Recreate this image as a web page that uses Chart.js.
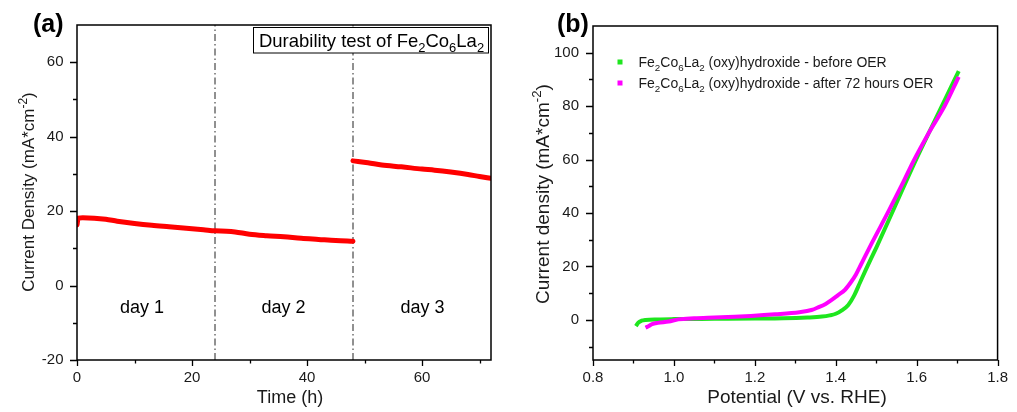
<!DOCTYPE html>
<html>
<head>
<meta charset="utf-8">
<script src="https://cdn.jsdelivr.net/npm/chart.js@4.4.0/dist/chart.umd.min.js"></script>
<style>
  body { margin: 0; background: #fff; }
  #wrap { position: relative; width: 1017px; height: 412px; }
  #chartA { position: absolute; left: 0; top: 0; }
  #chartB { position: absolute; left: 500px; top: 0; }
</style>
</head>
<body>
<div id="wrap">
  <canvas id="chartA" width="500" height="412"></canvas>
  <canvas id="chartB" width="517" height="412"></canvas>
</div>
<script>
// (a) durability run, current density over three days
const day12Time = [0, 0.2, 1, 3, 5, 7, 10, 13, 16, 19, 22, 24, 26, 27.5, 30, 33, 36, 39, 42, 45, 48];
const day12Current = [16.3, 18.1, 18.2, 18.1, 17.8, 17.3, 16.7, 16.2, 15.8, 15.4, 15.0, 14.7, 14.6, 14.4, 13.8, 13.4, 13.1, 12.7, 12.4, 12.1, 11.9];
const day3Time = [48, 50.6, 53, 56.4, 60, 62.2, 65, 68, 70, 72];
const day3Current = [33.5, 33.0, 32.4, 31.9, 31.3, 31.0, 30.5, 29.85, 29.3, 28.8];
const dayBoundaries = [24, 48];
const dayLabels = ['day 1', 'day 2', 'day 3'];
const timeTicks = [0, 20, 40, 60];
const currentTicks = [-20, 0, 20, 40, 60];

// (b) polarisation curves before / after 72 h
const potentialBefore = [0.906, 0.912, 0.92, 0.93, 0.96, 1.0, 1.1, 1.2, 1.27, 1.33, 1.366, 1.385, 1.4, 1.415, 1.431, 1.445, 1.46, 1.475, 1.5, 1.539, 1.597, 1.667, 1.704];
const densityBefore = [-2.3, -1.0, -0.3, 0.0, 0.2, 0.3, 0.4, 0.5, 0.6, 0.9, 1.25, 1.7, 2.3, 3.6, 5.6, 9.0, 14.0, 19.0, 27.0, 40.0, 59.5, 81.5, 93.1];
const potentialAfter = [0.93, 0.938, 0.946, 0.96, 0.987, 1.011, 1.05, 1.1, 1.15, 1.19, 1.25, 1.31, 1.34, 1.358, 1.375, 1.39, 1.405, 1.423, 1.437, 1.45, 1.46, 1.49, 1.53, 1.565, 1.594, 1.63, 1.669, 1.704];
const densityAfter = [-2.9, -2.3, -1.6, -1.1, -0.6, 0.2, 0.6, 0.9, 1.2, 1.5, 2.1, 2.9, 3.7, 4.8, 6.0, 7.5, 9.2, 11.3, 14.0, 17.0, 20.0, 29.0, 40.5, 51.0, 60.0, 70.0, 80.0, 91.0];
const potentialTicks = [0.8, 1.0, 1.2, 1.4, 1.6, 1.8];
const densityTicks = [0, 20, 40, 60, 80, 100];

const FONT = "'Liberation Sans', Arial, sans-serif";
const INK = '#1a1a1a';

const pts = (xs, ys) => xs.map((x, i) => ({ x, y: ys[i] }));

// midpoints between major ticks, plus one half step on either end if it fits
function minorTicks(major, min, max) {
  const step = major[1] - major[0];
  const out = [];
  const first = major[0] - step / 2;
  if (first > min + 1e-9) out.push(first);
  major.forEach(v => {
    const m = v + step / 2;
    if (m < max - 1e-9) out.push(m);
  });
  return out;
}

// text runs with sub/superscripts: [[text, 'sub'|'sup'|null], ...]
function drawRich(ctx, parts, x, y, size, align, weight) {
  const w = weight || 'normal';
  const fontOf = p => `${w} ${p[1] ? size * 0.7 : size}px ${FONT}`;
  const widths = parts.map(p => { ctx.font = fontOf(p); return ctx.measureText(p[0]).width; });
  const total = widths.reduce((a, b) => a + b, 0);
  let cx = align === 'center' ? x - total / 2 : align === 'right' ? x - total : x;
  ctx.textAlign = 'left';
  ctx.textBaseline = 'alphabetic';
  parts.forEach((p, i) => {
    ctx.font = fontOf(p);
    const dy = p[1] === 'sub' ? size * 0.28 : p[1] === 'sup' ? -size * 0.42 : 0;
    ctx.fillText(p[0], cx, y + dy);
    cx += widths[i];
  });
  return total;
}

// frame, outward ticks, axis titles and panel letter
function framePlugin(cfg) {
  return {
    id: 'frame',
    afterDraw(chart) {
      const { ctx, chartArea: a, scales } = chart;
      const xs = scales.x, ys = scales.y;
      ctx.save();
      ctx.strokeStyle = '#000';
      ctx.lineWidth = 1.5;
      ctx.strokeRect(a.left, a.top, a.right - a.left, a.bottom - a.top);

      ctx.lineWidth = 1.3;
      ctx.beginPath();
      const tickX = (vals, len) => vals.forEach(v => {
        const px = Math.round(xs.getPixelForValue(v)) + 0.5;
        ctx.moveTo(px, a.bottom); ctx.lineTo(px, a.bottom + len);
      });
      const tickY = (vals, len) => vals.forEach(v => {
        const py = Math.round(ys.getPixelForValue(v)) + 0.5;
        ctx.moveTo(a.left, py); ctx.lineTo(a.left - len, py);
      });
      tickX(cfg.xMajor, 6);
      tickX(minorTicks(cfg.xMajor, xs.min, xs.max), 3.5);
      tickY(cfg.yMajor, 7);
      tickY(minorTicks(cfg.yMajor, ys.min, ys.max), 4);
      ctx.stroke();

      ctx.fillStyle = INK;
      drawRich(ctx, cfg.xTitle, cfg.xTitlePos[0], cfg.xTitlePos[1], cfg.titleSize, 'center');
      ctx.save();
      ctx.translate(cfg.yTitlePos[0], cfg.yTitlePos[1]);
      ctx.rotate(-Math.PI / 2);
      drawRich(ctx, cfg.yTitle, 0, 0, cfg.yTitleSize, 'center');
      ctx.restore();

      ctx.fillStyle = '#000';
      drawRich(ctx, [[cfg.letter, null]], cfg.letterPos[0], cfg.letterPos[1], 25, 'left', 'bold');

      if (cfg.extra) cfg.extra(chart);
      ctx.restore();
    }
  };
}

function axisOptions(min, max, ticks, width, fmt) {
  return {
    type: 'linear', min, max,
    grid: { display: false, drawTicks: false },
    border: { display: false },
    afterBuildTicks: s => { s.ticks = ticks.map(v => ({ value: v })); },
    ticks: { font: { family: FONT, size: 15 }, color: INK, padding: width, callback: fmt }
  };
}

// ---------- (a) ----------
const boundarySets = dayBoundaries.map(t => ({
  data: [{ x: t, y: -20 }, { x: t, y: 70 }],
  borderColor: '#222', borderWidth: 1, borderDash: [7, 3, 1.5, 3],
  pointRadius: 0, showLine: true, order: 3
}));
const redLine = {
  borderColor: '#ff0000', borderWidth: 5, pointRadius: 0, showLine: true,
  borderCapStyle: 'round', cubicInterpolationMode: 'monotone', order: 1
};

new Chart(document.getElementById('chartA'), {
  type: 'scatter',
  data: {
    datasets: [
      Object.assign({ data: pts(day12Time, day12Current) }, redLine),
      Object.assign({ data: pts(day3Time, day3Current) }, redLine),
      ...boundarySets
    ]
  },
  options: {
    responsive: false, animation: false,
    layout: { padding: { left: 0, top: 25, right: 9, bottom: 0 } },
    plugins: { legend: { display: false }, tooltip: { enabled: false } },
    scales: {
      x: Object.assign(axisOptions(0, 72, timeTicks, 9, v => v), { afterFit: s => { s.height = 52; } }),
      y: Object.assign(axisOptions(-20, 70, currentTicks, 13.5, v => v), { afterFit: s => { s.width = 77; } })
    }
  },
  plugins: [framePlugin({
    xMajor: timeTicks, yMajor: currentTicks,
    xTitle: [['Time (h)', null]], xTitlePos: [290, 403],
    yTitle: [['Current Density (mA*cm', null], ['-2', 'sup'], [')', null]], yTitlePos: [34, 192],
    titleSize: 18, yTitleSize: 17,
    letter: '(a)', letterPos: [33, 32],
    extra(chart) {
      const { ctx, scales } = chart;
      const centres = [11.3, 35.9, 60.1];
      dayLabels.forEach((d, i) => {
        drawRich(ctx, [[d, null]], scales.x.getPixelForValue(centres[i]), 312.5, 18, 'center');
      });
      // caption box in the upper right corner
      ctx.fillStyle = '#fff';
      ctx.fillRect(253.5, 27.5, 235, 25.5);
      ctx.strokeStyle = '#000';
      ctx.lineWidth = 1;
      ctx.strokeRect(253.5, 27.5, 235, 25.5);
      ctx.fillStyle = '#000';
      drawRich(ctx, [['Durability test of Fe', null], ['2', 'sub'], ['Co', null], ['6', 'sub'], ['La', null], ['2', 'sub']],
        371.5, 47, 18.5, 'center');
    }
  })]
});

// ---------- (b) ----------
new Chart(document.getElementById('chartB'), {
  type: 'scatter',
  data: {
    datasets: [
      { data: pts(potentialAfter, densityAfter), borderColor: '#ff00ff', borderWidth: 4, pointRadius: 0,
        showLine: true, cubicInterpolationMode: 'monotone', order: 1 },
      { data: pts(potentialBefore, densityBefore), borderColor: '#1ee61e', borderWidth: 4, pointRadius: 0,
        showLine: true, cubicInterpolationMode: 'monotone', order: 2 }
    ]
  },
  options: {
    responsive: false, animation: false,
    layout: { padding: { left: 0, top: 26, right: 10, bottom: 0 } },
    plugins: { legend: { display: false }, tooltip: { enabled: false } },
    scales: {
      x: Object.assign(axisOptions(0.8, 1.8, potentialTicks, 9, v => v.toFixed(1)), { afterFit: s => { s.height = 52; } }),
      y: Object.assign(axisOptions(-15, 110, densityTicks, 14, v => v), { afterFit: s => { s.width = 93; } })
    }
  },
  plugins: [framePlugin({
    xMajor: potentialTicks, yMajor: densityTicks,
    xTitle: [['Potential (V vs. RHE)', null]], xTitlePos: [297, 403],
    yTitle: [['Current density (mA*cm', null], ['-2', 'sup'], [')', null]], yTitlePos: [48.5, 194],
    titleSize: 19, yTitleSize: 19,
    letter: '(b)', letterPos: [57, 32],
    extra(chart) {
      const { ctx } = chart;
      const entries = [
        ['#1ee61e', 'before OER', 62],
        ['#ff00ff', 'after 72 hours OER', 83]
      ];
      entries.forEach(([c, tail, y]) => {
        ctx.fillStyle = c;
        ctx.fillRect(117.5, y - 2.5, 5, 5);
        ctx.fillStyle = INK;
        drawRich(ctx, [['Fe', null], ['2', 'sub'], ['Co', null], ['6', 'sub'], ['La', null], ['2', 'sub'],
          [' (oxy)hydroxide - ' + tail, null]], 138.5, y + 5, 14, 'left');
      });
    }
  })]
});
</script>
</body>
</html>
